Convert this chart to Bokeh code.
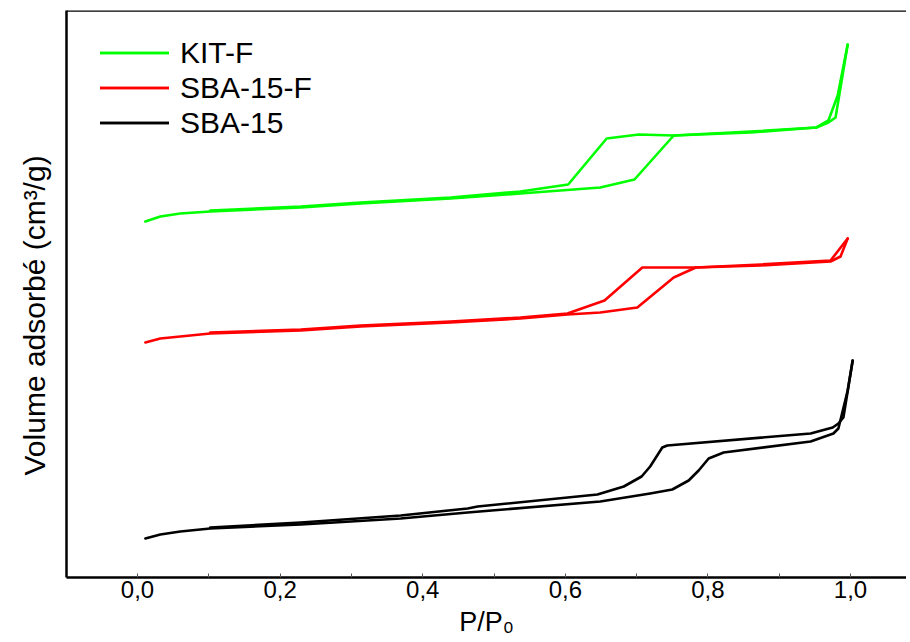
from bokeh.plotting import figure
from bokeh.models import Range1d, Span, Legend, FixedTicker, Title
from bokeh.embed import file_html
from bokeh.resources import INLINE

# ---- data (P/P0 vs volume adsorbed, arbitrary offset units) ----
kit_ads_x = [0.011, 0.032, 0.060, 0.102, 0.229, 0.313, 0.439, 0.537, 0.649, 0.697, 0.752, 0.860, 0.952, 0.969, 0.979, 0.996]
kit_ads_y = [356, 361, 364, 366, 370, 374, 379, 384, 390, 398, 442, 445, 450, 455, 460, 533]
kit_des_x = [0.996, 0.982, 0.969, 0.952, 0.860, 0.752, 0.703, 0.658, 0.604, 0.537, 0.439, 0.313, 0.229, 0.102]
kit_des_y = [533, 482, 457, 450, 446, 442, 443, 439, 393, 386, 380, 375, 371, 367]

sbaf_ads_x = [0.011, 0.032, 0.060, 0.102, 0.229, 0.313, 0.439, 0.537, 0.603, 0.649, 0.701, 0.752, 0.783, 0.874, 0.972, 0.986, 0.996]
sbaf_ads_y = [235, 239, 241, 244, 247, 251, 255, 259, 263, 265, 270, 300, 310, 312, 316, 321, 339]
sbaf_des_x = [0.996, 0.972, 0.874, 0.783, 0.708, 0.655, 0.603, 0.537, 0.439, 0.313, 0.229, 0.102]
sbaf_des_y = [339, 317, 313, 310, 310, 277, 264, 260, 256, 252, 248, 245]

sba_ads_x = [0.011, 0.032, 0.060, 0.102, 0.229, 0.369, 0.463, 0.649, 0.719, 0.750, 0.773, 0.787, 0.801, 0.822, 0.944, 0.976, 0.983, 0.996, 1.003]
sba_ads_y = [39, 43, 46, 49, 53, 59, 65, 76, 84, 88, 97, 107, 119, 125, 136, 144, 149, 187, 217]
sba_des_x = [1.003, 0.990, 0.983, 0.975, 0.944, 0.743, 0.736, 0.719, 0.707, 0.682, 0.645, 0.477, 0.463, 0.369, 0.229, 0.102]
sba_des_y = [217, 160, 154, 150, 144, 132, 130, 111, 101, 91, 83, 71, 69, 62, 55, 50]

series_names = ["KIT-F", "SBA-15-F", "SBA-15"]
series_colors = ["#00FF00", "#FF0000", "#000000"]

x_ticks = [0, 0.2, 0.4, 0.6, 0.8, 1.0]
x_tick_labels = ["0,0", "0,2", "0,4", "0,6", "0,8", "1,0"]
x_minor = [0.1, 0.3, 0.5, 0.7, 0.9]

FONT = "Liberation Sans"

p = figure(width=906, height=641, output_backend="svg", toolbar_location=None,
           x_range=Range1d(-0.0996, 1.0785), y_range=Range1d(0, 567),
           min_border_left=66, min_border_right=0, min_border_top=10, min_border_bottom=64)
p.outline_line_color = None
p.grid.visible = False
p.background_fill_color = "white"
p.border_fill_color = "white"

data = [
    (kit_ads_x, kit_ads_y, kit_des_x, kit_des_y),
    (sbaf_ads_x, sbaf_ads_y, sbaf_des_x, sbaf_des_y),
    (sba_ads_x, sba_ads_y, sba_des_x, sba_des_y),
]
items = []
for (ax, ay, dx, dy), name, col in zip(data, series_names, series_colors):
    r1 = p.line(ax, ay, line_color=col, line_width=2.6, line_join="round", line_cap="round")
    r2 = p.line(dx, dy, line_color=col, line_width=2.6, line_join="round", line_cap="round")
    items.append((name, [r1, r2]))

legend = Legend(items=items, location=(34, 437), orientation="vertical",
                glyph_width=69, glyph_height=35, label_height=35, spacing=0,
                label_standoff=11, padding=5, margin=0,
                label_text_font=FONT, label_text_font_size="30px",
                label_text_color="black",
                background_fill_alpha=0, border_line_color=None)
p.add_layout(legend, "center")

# x axis
xa = p.xaxis[0]
xa.ticker = FixedTicker(ticks=x_ticks, minor_ticks=x_minor)
overrides = {}
for v, lab in zip(x_ticks, x_tick_labels):
    k = int(v) if float(v).is_integer() else v
    overrides[k] = lab
xa.major_label_overrides = overrides
xa.major_label_text_font = FONT
xa.major_label_text_font_size = "24px"
xa.major_label_text_color = "black"
xa.major_label_standoff = 3
xa.axis_line_width = 2.5
xa.axis_line_color = "black"
xa.major_tick_in = 4
xa.major_tick_out = 0
xa.minor_tick_in = 4
xa.minor_tick_out = 0
xa.major_tick_line_color = "#555555"
xa.minor_tick_line_color = "#555555"

# y axis
ya = p.yaxis[0]
ya.ticker = FixedTicker(ticks=[])
ya.major_tick_out = 0
ya.major_tick_in = 0
ya.minor_tick_out = 0
ya.minor_tick_in = 0
ya.major_label_text_font_size = "0px"
ya.major_label_standoff = 0
ya.axis_line_width = 2.5
ya.axis_line_color = "black"

# top border
p.add_layout(Span(location=567, dimension="width", line_color="black", line_width=2.5))

# axis titles as side titles (allow offsets like the reference)
ytitle = Title(text="Volume adsorbé (cm³/g)", align="left", offset=102, standoff=31,
               text_font=FONT, text_font_size="30px", text_font_style="normal",
               text_color="black")
p.add_layout(ytitle, "left")

xtitle = Title(text="P/P₀", align="center", offset=9, standoff=8,
               text_font=FONT, text_font_size="27px", text_font_style="normal",
               text_color="black")
p.add_layout(xtitle, "below")

open("out.html", "w").write(file_html(p, INLINE))
